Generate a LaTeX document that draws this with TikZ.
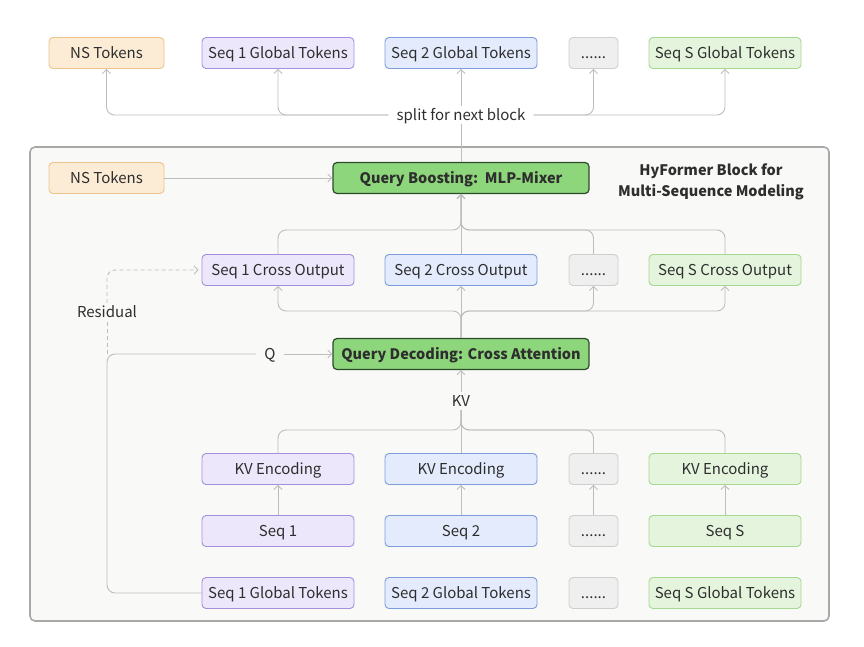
\documentclass[tikz,border=0pt]{standalone}
\usepackage{fontspec}
\setmainfont{Noto Sans CJK SC}
\usetikzlibrary{positioning,arrows.meta}
\definecolor{txt}{HTML}{2E2E2E}
\definecolor{linec}{HTML}{BDBDBD}
\definecolor{orfill}{HTML}{FCEBD5}
\definecolor{orline}{HTML}{EDC48C}
\definecolor{pufill}{HTML}{EDE7FB}
\definecolor{puline}{HTML}{A490DA}
\definecolor{blfill}{HTML}{E3EBFC}
\definecolor{blline}{HTML}{7D9DDC}
\definecolor{grfill}{HTML}{EFEFEF}
\definecolor{grline}{HTML}{CFCFCF}
\definecolor{gnfill}{HTML}{E5F5DD}
\definecolor{gnline}{HTML}{A5D890}
\definecolor{qfill}{HTML}{8ED67B}
\definecolor{qline}{HTML}{2E4A2E}
\definecolor{blkfill}{HTML}{F9F9F7}
\definecolor{blkline}{HTML}{A8A8A8}
\begin{document}
\begin{tikzpicture}[x=1pt, y=-1pt,
  box/.style={draw, rounded corners=4pt, minimum height=31pt, inner sep=0pt,
    text height=10pt, text depth=0pt,
    line width=0.9pt, text=txt, font=\fontsize{15}{17}\selectfont},
  nsbox/.style={box, fill=orfill, draw=orline, minimum width=115pt},
  pubox/.style={box, fill=pufill, draw=puline, minimum width=152pt},
  blbox/.style={box, fill=blfill, draw=blline, minimum width=152pt},
  dotbox/.style={box, fill=grfill, draw=grline, minimum width=49pt},
  gnbox/.style={box, fill=gnfill, draw=gnline, minimum width=152pt},
  qbox/.style={box, fill=qfill, draw=qline, line width=1.2pt, minimum width=256pt,
    font=\fontsize{14.5}{17}\selectfont\bfseries},
  lbl/.style={text=txt, inner xsep=8pt, inner ysep=4pt, text height=10pt, text depth=0pt,
    font=\fontsize{15}{17}\selectfont},
  conn/.style={draw=linec, line width=0.9pt, rounded corners=8pt,
    >={Straight Barb[length=4pt,width=8pt]}},
  resid/.style={conn, dashed, dash pattern=on 4pt off 3pt, shorten >=3pt},
  blk/.style={draw=blkline, fill=blkfill, line width=1.6pt, rounded corners=5pt}]
  \useasboundingbox (0,0) rectangle (864,646);
  % Block frame
  \node[blk, minimum width=799pt, minimum height=474pt] (block) at (429.5,384) {};
  % Next block outputs
  \node[nsbox] (nsout) at (106.5,53) {NS Tokens};
  \node[pubox] (gout1) at (278,53) {Seq 1 Global Tokens};
  \node[blbox] (gout2) at (461,53) {Seq 2 Global Tokens};
  \node[dotbox] (goutd) at (593.5,53) {......};
  \node[gnbox] (gouts) at (725,53) {Seq S Global Tokens};
  \node[lbl] (split) at (461,115) {split for next block};
  % Boosting
  \node[nsbox] (ns) at (106.5,178) {NS Tokens};
  \node[qbox] (qb) at (461,178) {Query Boosting:\ \ MLP-Mixer};
  \node[text=txt, align=center, font=\fontsize{14.5}{21}\selectfont\bfseries] (ttl) at (711,182)
    {HyFormer Block for\\Multi-Sequence Modeling};
  % Cross outputs
  \node[pubox] (co1) at (278,270) {Seq 1 Cross Output};
  \node[blbox] (co2) at (461,270) {Seq 2 Cross Output};
  \node[dotbox] (cod) at (593.5,270) {......};
  \node[gnbox] (cos) at (725,270) {Seq S Cross Output};
  % Decoding
  \node[qbox] (qd) at (461,354) {Query Decoding: Cross Attention};
  \node[lbl] (q) at (270,354) {Q};
  \node[lbl] (res) at (107,312) {Residual};
  \node[lbl] (kv) at (461,401) {KV};
  % Sequences
  \node[pubox] (ke1) at (278,469) {KV Encoding};
  \node[blbox] (ke2) at (461,469) {KV Encoding};
  \node[dotbox] (ked) at (593.5,469) {......};
  \node[gnbox] (kes) at (725,469) {KV Encoding};
  \node[pubox] (s1) at (278,531) {Seq 1};
  \node[blbox] (s2) at (461,531) {Seq 2};
  \node[dotbox] (sd) at (593.5,531) {......};
  \node[gnbox] (ss) at (725,531) {Seq S};
  \node[pubox] (g1) at (278,593) {Seq 1 Global Tokens};
  \node[blbox] (g2) at (461,593) {Seq 2 Global Tokens};
  \node[dotbox] (gd) at (593.5,593) {......};
  \node[gnbox] (gs) at (725,593) {Seq S Global Tokens};
  % Junctions
  \coordinate (jqb) at (461,230);
  \coordinate (jco) at (461,311);
  \coordinate (jkv) at (461,430);
  \coordinate (rq) at (107,354);
  % Split to next block
  \draw[conn] (qb.north) -- (split.south);
  \draw[conn,->] (split.north) -- (gout2.south);
  \draw[conn,->] (split.west) -| (nsout.south);
  \draw[conn,->] (split.west) -| (gout1.south);
  \draw[conn,->] (split.east) -| (goutd.south);
  \draw[conn,->] (split.east) -| (gouts.south);
  % Into boosting
  \draw[conn,->] (ns) -- (qb);
  \draw[conn,->] (co2.north) -- (qb.south);
  \foreach \n in {co1,cod,cos}
    \draw[conn,->] (\n.north) |- (jqb) -- (qb.south);
  % Decoding to cross outputs
  \draw[conn,->] (qd.north) -- (co2.south);
  \foreach \n in {co1,cod,cos}
    \draw[conn,->] (qd.north) -- (jco) -| (\n.south);
  % Query path and residual
  \draw[conn] (g1.west) -| (rq) -- (q.west);
  \draw[conn,->] (q.east) -- (qd.west);
  \draw[resid, shorten >=0pt] (rq) -- (res.south);
  \draw[resid,->] (res.north) |- (co1.west);
  % KV path
  \draw[conn,->] (kv.north) -- (qd.south);
  \draw[conn] (ke2.north) -- (kv.south);
  \foreach \n in {ke1,ked,kes}
    \draw[conn] (\n.north) |- (jkv) -- (kv.south);
  \foreach \a/\b in {s1/ke1,s2/ke2,sd/ked,ss/kes}
    \draw[conn,->] (\a.north) -- (\b.south);
\end{tikzpicture}
\end{document}
